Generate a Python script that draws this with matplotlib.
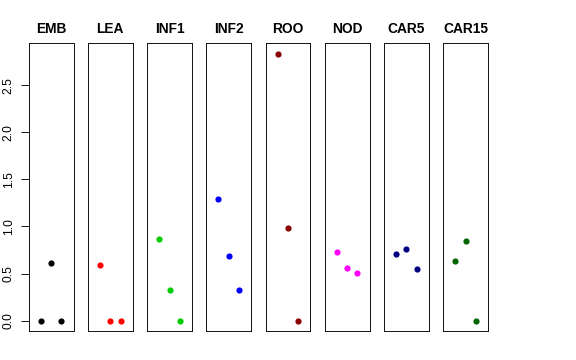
import matplotlib
matplotlib.use("Agg")
import matplotlib.pyplot as plt

categories = ["EMB", "LEA", "INF1", "INF2", "ROO", "NOD", "CAR5", "CAR15"]
values = [
    [0.0, 0.615, 0.0],
    [0.59, 0.0, 0.0],
    [0.868, 0.326, 0.0],
    [1.29, 0.687, 0.326],
    [2.836, 0.979, 0.0],
    [0.73, 0.564, 0.507],
    [0.713, 0.762, 0.553],
    [0.631, 0.851, 0.0],
]
colors = ["black", "red", "#00CD00", "blue", "#8B0000", "magenta", "#000080", "#006400"]
xpos = [1, 2, 3]
yticks = [0.0, 0.5, 1.0, 1.5, 2.0, 2.5]
ytick_labels = ["0.0", "0.5", "1.0", "1.5", "2.0", "2.5"]

plt.rcParams['font.family'] = ['Liberation Sans', 'DejaVu Sans']

W, H = 576, 360
fig = plt.figure(figsize=(W / 72, H / 72), dpi=72)

left0 = 28.7
step = 59.2
pw = 44.8
top = 43.0
bottom = 331.3

ymax_data = max(max(v) for v in values)
ext = 0.04 * ymax_data
ylim = (0 - ext, ymax_data + ext)
xlim = (0 - 0.16, 4 + 0.16)

for i, (cat, vals, col) in enumerate(zip(categories, values, colors)):
    l = left0 + i * step
    ax = fig.add_axes([l / W, 1 - bottom / H, pw / W, (bottom - top) / H])
    ax.plot(xpos, vals, 'o', color=col, markersize=6.2, markeredgewidth=0)
    ax.set_xlim(*xlim)
    ax.set_ylim(*ylim)
    ax.set_xticks([])
    for s in ax.spines.values():
        s.set_linewidth(0.9)
        s.set_color("black")
    ax.set_title(cat, fontsize=13.7, fontweight='bold', pad=10)
    if i == 0:
        ax.set_yticks(yticks)
        ax.set_yticklabels(ytick_labels, rotation=90, va='center', fontsize=12)
        ax.tick_params(axis='y', length=8, width=0.9, pad=6)
    else:
        ax.set_yticks([])

fig.savefig("out.png", dpi=72)
